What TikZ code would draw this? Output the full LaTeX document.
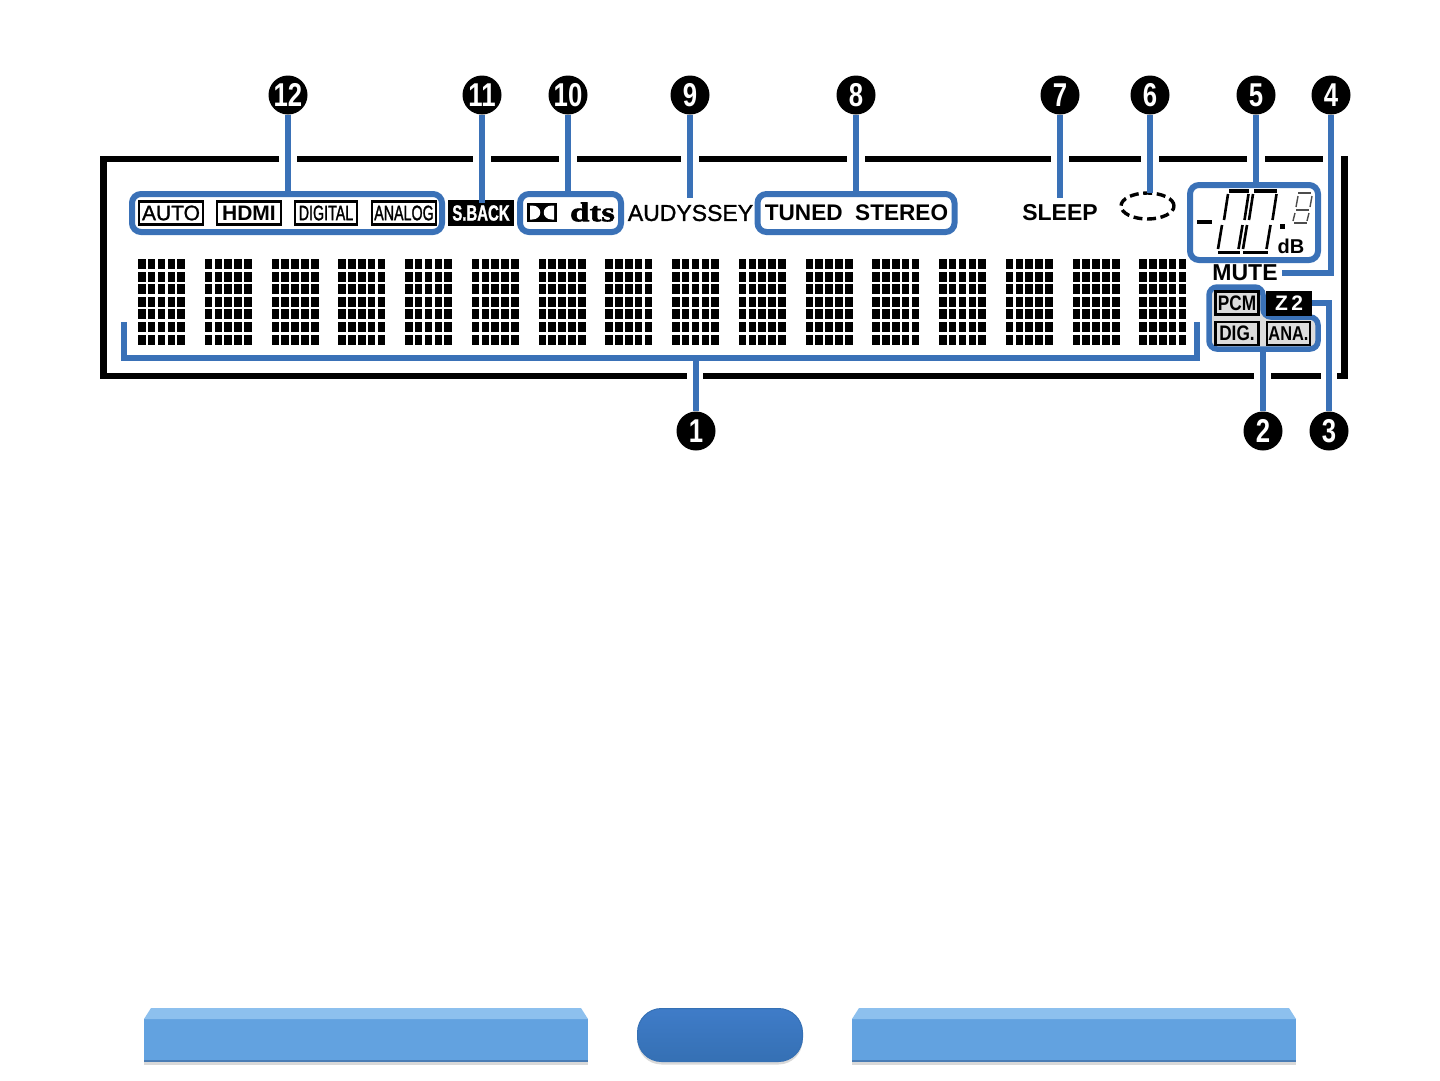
\documentclass[tikz,border=0pt]{standalone}
\usepackage{fontspec}
\setmainfont{Liberation Sans}
\newfontfamily\medfont[FakeBold=1.2]{Liberation Sans}
\newfontfamily\narrowfont[FakeStretch=0.68,FakeBold=1.2]{Liberation Sans}
\newfontfamily\midfont[FakeStretch=0.82]{Liberation Sans}
\newfontfamily\numfont[FakeStretch=0.78]{Liberation Sans}
\newfontfamily\logofont[FakeStretch=1.3,FakeBold=2]{Liberation Serif}
\usetikzlibrary{shapes.geometric,shadows}
\definecolor{LcdBlue}{HTML}{3A71B7}
\definecolor{LcdGrey}{HTML}{DCDCDC}
\definecolor{BarBlue}{HTML}{62A2E0}
\definecolor{BarLight}{HTML}{8DC0EE}
\definecolor{BarEdge}{HTML}{4A7DB5}
\definecolor{PillTop}{HTML}{3F7CC8}
\definecolor{PillLow}{HTML}{3570B4}
\newcommand{\pxfont}[1]{\fontsize{#1}{#1}\selectfont}
\tikzset{
  numdot/.style={circle,fill=black,text=white,inner sep=0pt,minimum size=39pt,font=\numfont\bfseries\pxfont{33}},
  leader/.style={LcdBlue,line width=6.4pt},
  groupbox/.style={draw=LcdBlue,line width=6pt,rounded corners=9pt,inner sep=0pt},
  labelbox/.style={draw=black,fill=white,line width=2.4pt,inner sep=0pt},
  plainlabel/.style={inner sep=0pt,font=\bfseries\pxfont{23},minimum height=30pt},
  segline/.style={line width=2.6pt},
  frameline/.style={line width=6.5pt}
}
\begin{document}
\begin{tikzpicture}[x=1pt,y=-1pt]
  \useasboundingbox (0,0) rectangle (1440,1080);
  % frame of the display
  \draw[frameline] (279,159)--(103.5,159)--(103.5,376)--(687,376);
  \foreach \a/\b in {297/473,491/559,577/681,699/847,865/1051,1069/1141,1159/1247,1265/1323}
    \draw[frameline] (\a,159)--(\b,159);
  \draw[frameline] (703,376)--(1254,376);
  \draw[frameline] (1271,376)--(1321,376);
  \draw[frameline] (1341,159)--(1344.5,159)--(1344.5,376)--(1337,376);
  % dot matrix
  \foreach \c in {0,...,15}
    \foreach \i in {0,...,4}
      \foreach \j in {0,...,6}
        \fill ({138+66.75*\c+9.85*\i},{259+12.6*\j}) rectangle +(7.6,10);
  % group boxes
  \node[groupbox,minimum width=310pt,minimum height=38pt] (box12) at (287,213) {};
  \node[groupbox,minimum width=101pt,minimum height=38pt] (box10) at (570.5,213) {};
  \node[groupbox,minimum width=197pt,minimum height=38pt] (box8) at (856,213) {};
  \node[groupbox,minimum width=128pt,minimum height=75pt] (box5) at (1254,222.5) {};
  % lit labels of box 12
  \node[labelbox,minimum width=64pt,minimum height=23pt,font=\medfont\pxfont{21}] (auto) at (171,213) {AUTO};
  \node[labelbox,minimum width=64pt,minimum height=23pt,font=\bfseries\pxfont{21}] (hdmi) at (249,213) {HDMI};
  \node[labelbox,minimum width=62pt,minimum height=23pt,font=\narrowfont\pxfont{21}] (digital) at (326,213) {DIGITAL};
  \node[labelbox,minimum width=64pt,minimum height=23pt,font=\narrowfont\pxfont{21}] (analog) at (404,213) {ANALOG};
  \node[fill=black,text=white,inner sep=0pt,minimum width=66pt,minimum height=26pt,font=\narrowfont\bfseries\pxfont{22}] (sback) at (481,213) {S.BACK};
  % dolby and dts
  \node[fill=black,minimum width=30pt,minimum height=19pt,inner sep=0pt] (dolby) at (542,212.5) {};
  \fill[white] (530,205.5)--(532,205.5) .. controls (543,205.5) and (543,219.5) .. (532,219.5)--(530,219.5)--cycle;
  \fill[white] (554,205.5)--(552,205.5) .. controls (541,205.5) and (541,219.5) .. (552,219.5)--(554,219.5)--cycle;
  \node[inner sep=0pt,font=\logofont\bfseries\pxfont{27}] (dts) at (592.5,212) {dts};
  \node[plainlabel,font=\medfont\pxfont{23}] (audyssey) at (690.5,213) {AUDYSSEY};
  \node[plainlabel,font=\bfseries\pxfont{22.6}] (tuned) at (856.5,213) {TUNED\ \ STEREO};
  \node[plainlabel] (sleep) at (1060,213) {SLEEP};
  \node[ellipse,draw=black,line width=3.4pt,dash pattern=on 9pt off 4.6pt,inner sep=0pt,minimum width=53pt,minimum height=26pt] (disc) at (1147.5,206) {};
  % level readout
  \draw[line width=4pt] (1197,222)--(1212,222);
  \foreach \d/\w in {0/0,25/3}{
    \draw[segline,line width=3.2pt] ({1229+\d},191)--({1249+\d+\w},191);
    \draw[segline] ({1228+\d},194)--({1224+\d},220);
    \draw[segline] ({1248.5+\d+\w},194)--({1244.5+\d+\w},220);
    \draw[segline] ({1222+\d},225)--({1218+\d},249);
    \draw[segline] ({1242.5+\d+\w},225)--({1238.5+\d+\w},249);
    \draw[segline,line width=3.2pt] ({1218+\d},252.5)--({1240+\d+\w},252.5);
  }
  \fill (1280,224) rectangle +(4.5,4.5);
  \begin{scope}[line width=1.4pt,black!70]
    \draw (1298,193)--(1311,193);
    \draw (1298,196)--(1296,207);
    \draw (1312,196)--(1310,207);
    \draw (1296,210)--(1309,210);
    \draw (1295,213)--(1293,221);
    \draw (1309,213)--(1307,221);
    \draw (1294,223)--(1307,223);
  \end{scope}
  \node[inner sep=0pt,font=\bfseries\pxfont{20}] (db) at (1291,246) {dB};
  \node[inner sep=0pt,minimum height=18pt,font=\bfseries\pxfont{23}] (mute) at (1245,273) {MUTE};
  % input signal group
  \filldraw[fill=LcdGrey,draw=LcdBlue,line width=5.5pt,rounded corners=8pt]
    (1209,287)--(1263,287)--(1263,317)--(1318,317)--(1318,349)--(1209,349)--cycle;
  \coordinate (box2) at (1263,349);
  \node[labelbox,fill=LcdGrey,minimum width=43pt,minimum height=23pt,font=\midfont\bfseries\pxfont{21}] (pcm) at (1237,303) {PCM};
  \node[fill=black,text=white,inner sep=0pt,minimum width=46pt,minimum height=25pt,font=\bfseries\pxfont{21}] (ztwo) at (1289,303) {Z\,2};
  \node[labelbox,fill=LcdGrey,minimum width=43pt,minimum height=23pt,font=\midfont\bfseries\pxfont{21}] (dig) at (1237,333.5) {DIG.};
  \node[labelbox,fill=LcdGrey,minimum width=43pt,minimum height=23pt,font=\midfont\bfseries\pxfont{20}] (ana) at (1288.5,333.5) {ANA.};
  % numbers
  \foreach \n/\x/\y in {12/288/95,11/482/95,10/568/95,9/690/95,8/856/95,7/1060/95,6/1150/95,5/1256/95,4/1331/95,1/696/431,2/1263/431,3/1329/431}
    \node[numdot] (n\n) at (\x,\y) {\n};
  % leaders
  \draw[leader] (n12.south)--(n12.south |- box12.north);
  \draw[leader,shorten >=-3pt] (n11.south)--(n11.south |- sback.north);
  \draw[leader] (n10.south)--(n10.south |- box10.north);
  \draw[leader] (n9.south)--(n9.south |- audyssey.north);
  \draw[leader] (n8.south)--(n8.south |- box8.north);
  \draw[leader] (n7.south)--(n7.south |- sleep.north);
  \draw[leader,shorten >=-2pt] (n6.south)--(n6.south |- disc.north);
  \draw[leader] (n5.south)--(n5.south |- box5.north);
  \draw[leader] (n4.south) |- ([xshift=4pt]mute.east);
  \draw[leader] (n3.north) |- (ztwo.east);
  \draw[leader] (n2.north)--(box2);
  \coordinate (brkl) at (124,322);
  \coordinate (brkr) at (1197,322);
  \coordinate (brkb) at (124,358);
  \draw[leader] (brkl)--(brkb)--(brkb -| brkr)--(brkr);
  \draw[leader] (n1.north)--(n1.north |- brkb);
  % bars at the foot of the page
  \foreach \x/\name in {144/barleft,852/barright}{
    \node[fill=BarBlue,inner sep=0pt,minimum width=444pt,minimum height=43pt,anchor=north west,
      drop shadow={opacity=.3,shadow xshift=0pt,shadow yshift=-3pt}] (\name) at (\x,1019) {};
    \fill[BarLight] (\x+7,1008)--(\x+437,1008)--(\x+444,1019)--(\x,1019)--cycle;
    \fill[BarEdge] (\x,1059.5) rectangle (\x+444,1062);
  }
  \node[rounded corners=24pt,top color=PillTop,bottom color=PillLow,draw=PillLow,line width=1pt,inner sep=0pt,minimum width=165pt,minimum height=53pt,
    drop shadow={opacity=.3,shadow xshift=0pt,shadow yshift=-3pt}] (pill) at (720,1035) {};
\end{tikzpicture}
\end{document}
